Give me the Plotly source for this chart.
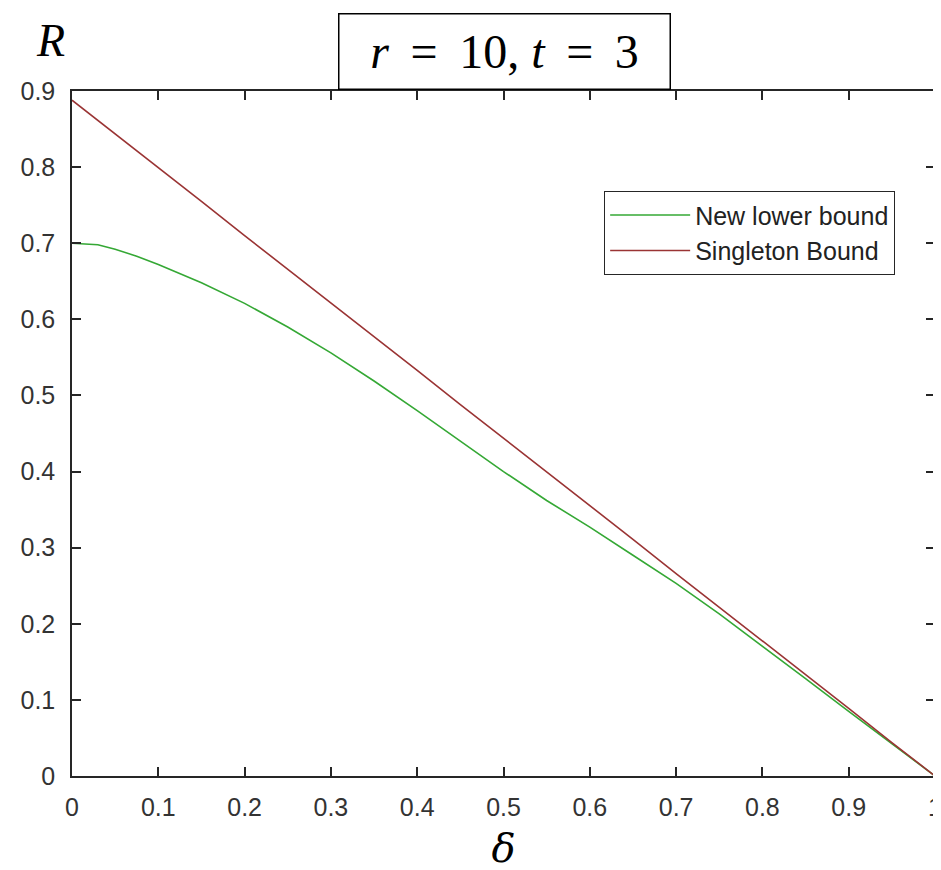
import plotly.graph_objects as go

# ---- data ----
delta_green = [0.0, 0.03, 0.05, 0.075, 0.1, 0.15, 0.2, 0.25, 0.3, 0.35, 0.4, 0.45,
               0.5, 0.55, 0.6, 0.65, 0.7, 0.75, 0.8, 0.85, 0.9, 0.95, 1.0]
new_lower_bound = [0.700, 0.698, 0.692, 0.683, 0.672, 0.648, 0.621, 0.590, 0.556, 0.519,
                   0.480, 0.440, 0.400, 0.362, 0.327, 0.290, 0.253, 0.213, 0.171, 0.128,
                   0.085, 0.043, 0.0]

delta_red = [0.0, 0.05, 0.1, 0.15, 0.2, 0.25, 0.3, 0.35, 0.4, 0.45, 0.5,
             0.55, 0.6, 0.65, 0.7, 0.75, 0.8, 0.85, 0.9, 0.95, 1.0]
singleton_bound = [0.888, 0.844, 0.799, 0.755, 0.710, 0.666, 0.622, 0.577, 0.533, 0.488,
                   0.444, 0.400, 0.355, 0.311, 0.266, 0.222, 0.178, 0.133, 0.089, 0.044, 0.0]

x_ticks = [0, 0.1, 0.2, 0.3, 0.4, 0.5, 0.6, 0.7, 0.8, 0.9, 1]
x_ticktext = ["0", "0.1", "0.2", "0.3", "0.4", "0.5", "0.6", "0.7", "0.8", "0.9", "1"]
y_ticks = [0, 0.1, 0.2, 0.3, 0.4, 0.5, 0.6, 0.7, 0.8, 0.9]
y_ticktext = ["0", "0.1", "0.2", "0.3", "0.4", "0.5", "0.6", "0.7", "0.8", "0.9"]

fig = go.Figure()
fig.add_trace(go.Scatter(x=delta_green, y=new_lower_bound, mode="lines",
                         name="New lower bound",
                         line=dict(color="#35a835", width=1.6)))
fig.add_trace(go.Scatter(x=delta_red, y=singleton_bound, mode="lines",
                         name="Singleton Bound",
                         line=dict(color="#9a3434", width=1.6)))

axis_common = dict(showline=True, linecolor="#262626", linewidth=1.5, mirror="ticks",
                   ticks="inside", ticklen=9, tickwidth=1.5, tickcolor="#262626",
                   showgrid=False, zeroline=False,
                   tickfont=dict(family="Liberation Sans, Arial", size=25, color="#333333"))

fig.update_xaxes(range=[0, 1], tickvals=x_ticks, ticktext=x_ticktext,
                 ticklabelstandoff=8, ticklabeloverflow="allow",
                 title=dict(text="<i>δ</i>", standoff=14,
                            font=dict(family="DejaVu Serif, serif", size=40, color="black")),
                 **axis_common)
fig.update_yaxes(range=[0, 0.9], tickvals=y_ticks, ticktext=y_ticktext,
                 ticklabelstandoff=10, **axis_common)

fig.update_layout(
    width=941, height=870,
    margin=dict(l=64, r=14, t=83, b=102, autoexpand=False),
    paper_bgcolor="white", plot_bgcolor="white",
    showlegend=True,
    legend=dict(x=0.6164, y=0.854, xanchor="left", yanchor="top",
                bordercolor="#262626", borderwidth=1.2, bgcolor="white",
                itemwidth=80, tracegroupgap=0,
                font=dict(family="Liberation Sans, Arial", size=25, color="#222222")),
    annotations=[
        dict(text="<i>r</i> &#8201;=&#8201; 10, <i>t</i> &#8201;=&#8201; 3",
             xref="paper", yref="paper",
             x=0.5017, y=1.0577, xanchor="center", yanchor="middle", showarrow=False,
             font=dict(family="Liberation Serif, serif", size=48, color="black"),
             bordercolor="black", borderwidth=1.5, borderpad=0,
             width=330, height=74, bgcolor="white"),
        dict(text="<i>R</i>", xref="paper", yref="paper",
             x=-0.0253, y=1.073, xanchor="center", yanchor="middle", showarrow=False,
             font=dict(family="Liberation Serif, serif", size=46, color="black")),
    ],
)

fig.write_html("out.html")
